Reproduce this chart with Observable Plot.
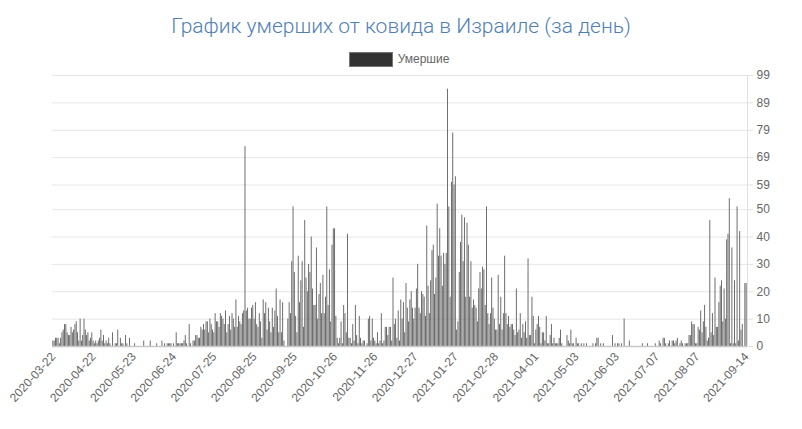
<!DOCTYPE html>
<html>
<head>
<meta charset="utf-8">
<script src="https://cdn.jsdelivr.net/npm/d3@7"></script>
<script src="https://cdn.jsdelivr.net/npm/@observablehq/plot@0.6"></script>
<style>
  body { margin: 0; background: #fff; width: 802px; height: 429px; overflow: hidden; }
  #title { height: 48px; padding-top: 2px; box-sizing: border-box; line-height: 48px; text-align: center; font-family: Roboto, "Open Sans", sans-serif; font-weight: 300; font-size: 21px; color: #4f80b3; }
  #legend { height: 22px; display: flex; justify-content: center; align-items: center; font-family: "Liberation Sans", Arial, sans-serif; font-size: 12px; color: #666; }
  #legend .box { width: 42px; height: 13px; background: #333; border: 1px solid #777; margin-right: 5px; margin-left: -4px; }
  #chart { margin-top: -7px; }
</style>
</head>
<body>
<div id="title">График умерших от ковида в Израиле (за день)</div>
<div id="legend"><div class="box"></div><span>Умершие</span></div>
<div id="chart"></div>
<script>
// First and last day shown; a few days are absent from the source series
const firstDay = "2020-03-22";
const lastDay = "2021-09-14";
const missingDates = ["2020-06-10", "2021-02-12", "2021-03-15", "2021-04-15", "2021-06-15", "2021-06-20", "2021-06-25"];

// X tick labels (every ~31st category)
const xTickLabels = ["2020-03-22","2020-04-22","2020-05-23","2020-06-24","2020-07-25","2020-08-25","2020-09-25","2020-10-26","2020-11-26","2020-12-27","2021-01-27","2021-02-28","2021-04-01","2021-05-03","2021-06-03","2021-07-07","2021-08-07","2021-09-14"];

// Y tick labels
const yTicks = [0, 10, 20, 30, 40, 50, 59, 69, 79, 89, 99];

// Daily deaths, in date order
const deaths2020a = [
 2,2,3,3,3,1,3,5,6,8, 8,5,4,4,7,5,6,8,9,5, 2,10,2,4,10,6,4,5,2,3,
 5,2,1,2,1,2,3,6,2,4, 1,2,1,3,1,0,5,0,1,1, 6,0,3,1,1,0,4,1,0,3,
 0,0,0,1,0,0,0,0,0,0, 2,0,0,0,0,2,0,0,0,0, 1,0,0,0,2,0,1,0,1,1,
 1,1,0,1,0,5,1,1,1,1, 1,2,4,1,0,8,1,0,2,2, 4,4,3,3,7,6,8,6,9,9,
 5,10,8,6,5,12,9,9,7,12, 11,10,8,13,5,8,11,6,12,10, 7,17,7,11,9,8,12,13,73,13,
 14,10,10,14,15,10,16,8,7,12
];
const deaths2020b = [
 9,3,17,12,16,6,14,9,5,14, 7,13,21,11,5,17,5,16,2,0, 0,10,16,12,31,51,27,11,5,33,
 16,24,31,7,46,25,20,30,27,40, 21,15,15,36,10,19,23,12,26,12, 18,51,15,28,9,37,43,43,11,3,
 1,3,9,1,15,12,5,41,3,3, 1,8,2,15,4,1,11,3,1,2, 2,0,1,10,11,2,10,3,2,1,
 5,1,2,12,1,2,7,7,4,7, 7,2,25,8,10,3,13,2,17,10, 16,5,23,14,9,17,20,14,10,14,
 21,30,14,12,20,19,18,11,44,22, 12,24,35,37,19,25,52,33,43,33
];
const deaths2021 = [
 22,34,30,34,94,51,18,60,78,59, 62,6,9,27,38,48,31,47,18,45, 37,18,31,14,17,15,14,9,21,27,
 21,29,28,15,51,12,8,12,25,14, 10,6,6,26,8,18,6,12,33,12, 8,11,7,8,8,6,4,21,5,6,
 12,3,8,5,9,3,32,4,4,18, 11,1,6,8,11,7,1,5,5,2, 11,1,1,4,8,1,3,1,1,1,
 3,6,1,0,0,0,4,2,1,6, 1,1,0,3,1,1,0,1,0,1, 0,1,0,0,0,0,1,0,1,3,
 3,0,1,0,1,0,0,0,0,0, 0,4,0,1,0,1,1,0,1,0, 10,0,0,0,2,0,0,0,0,0,
 0,0,0,0,1,0,0,0,1,0, 0,0,0,0,1,0,0,2,1,0, 3,3,1,0,1,2,0,2,2,1,
 2,3,0,1,2,1,0,1,1,1, 4,4,9,8,8,1,1,7,6,13, 5,9,15,7,2,3,46,5,12,4,
 25,7,7,16,22,24,9,21,10,39, 41,54,1,36,1,24,1,51,2,42, 6,8,0,23,23
];
const deaths = [...deaths2020a, ...deaths2020b, ...deaths2021];

const fmt = d3.utcFormat("%Y-%m-%d");
const dates = d3.utcDay.range(new Date(firstDay), d3.utcDay.offset(new Date(lastDay), 1))
  .map(fmt).filter(d => !missingDates.includes(d));

const data = dates.map((date, i) => ({date, value: deaths[i] ?? 0}));

const chart = Plot.plot({
  width: 802,
  height: 366,
  marginTop: 12,
  marginBottom: 83,
  marginLeft: 52,
  marginRight: 55,
  style: {fontFamily: "'Liberation Sans', Arial, sans-serif", fontSize: "12px", color: "#666", background: "#fff"},
  x: {type: "band", domain: dates, padding: 0.3},
  y: {domain: [0, 99]},
  marks: [
    Plot.ruleY(yTicks, {stroke: "#e6e6e6", strokeWidth: 1}),
    Plot.frame({anchor: "right", stroke: "#e0e0e0"}),
    Plot.barY(data, {x: "date", y: "value", fill: "#5f5f5f", inset: 0}),
    Plot.ruleY([0], {stroke: "#c8c8c8", strokeWidth: 1.5}),
    Plot.axisY({anchor: "right", ticks: yTicks, tickSize: 5, tickPadding: 4, stroke: "#e0e0e0", fill: "#666", label: null, fontSize: 12}),
    Plot.axisX({ticks: xTickLabels, tickSize: 0, tickRotate: -48, tickPadding: 8, fill: "#666", label: null, fontSize: 12})
  ]
});
document.getElementById("chart").appendChild(chart);
</script>
</body>
</html>
